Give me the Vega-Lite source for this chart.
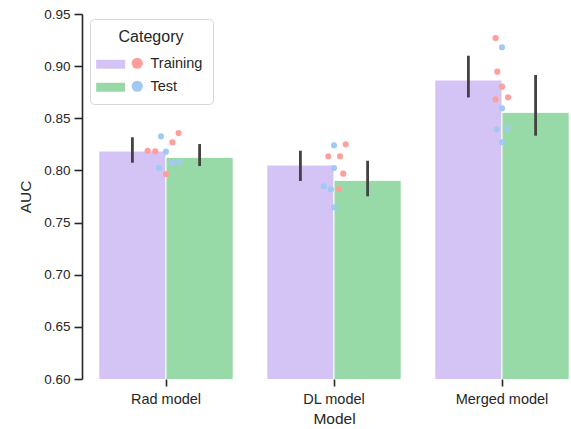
{
  "$schema": "https://vega.github.io/schema/vega-lite/v6.json",
  "autosize": {"type": "none"},
  "width": 489,
  "height": 365,
  "padding": {"left": 82, "top": 14, "right": 0, "bottom": 50},
  "background": "white",
  "config": {
    "font": "Liberation Sans",
    "view": {"stroke": null},
    "axis": {"grid": false, "domainColor": "#262626", "tickColor": "#262626", "labelColor": "#262626", "titleColor": "#262626", "domainWidth": 1.6, "tickWidth": 1.6, "titleFontWeight": "normal"}
  },
  "datasets": {
    "summary": [
      {"Model": "Rad model", "Category": "Training", "AUC": 0.8186, "lo": 0.8074, "hi": 0.8318},
      {"Model": "Rad model", "Category": "Test", "AUC": 0.8126, "lo": 0.8042, "hi": 0.8253},
      {"Model": "DL model", "Category": "Training", "AUC": 0.8052, "lo": 0.7899, "hi": 0.8189},
      {"Model": "DL model", "Category": "Test", "AUC": 0.7905, "lo": 0.7752, "hi": 0.8093},
      {"Model": "Merged model", "Category": "Training", "AUC": 0.8867, "lo": 0.870, "hi": 0.910},
      {"Model": "Merged model", "Category": "Test", "AUC": 0.8557, "lo": 0.8333, "hi": 0.8915}
    ],
    "folds": [
      {"Model": "Rad model", "Category": "Training", "AUC": 0.8359, "jitter": 0.075},
      {"Model": "Rad model", "Category": "Training", "AUC": 0.8270, "jitter": 0.038},
      {"Model": "Rad model", "Category": "Training", "AUC": 0.8189, "jitter": -0.109},
      {"Model": "Rad model", "Category": "Training", "AUC": 0.8183, "jitter": -0.064},
      {"Model": "Rad model", "Category": "Training", "AUC": 0.7966, "jitter": 0.0},
      {"Model": "Rad model", "Category": "Test", "AUC": 0.8327, "jitter": -0.03},
      {"Model": "Rad model", "Category": "Test", "AUC": 0.8180, "jitter": 0.0},
      {"Model": "Rad model", "Category": "Test", "AUC": 0.8026, "jitter": -0.042},
      {"Model": "Rad model", "Category": "Test", "AUC": 0.8074, "jitter": 0.036},
      {"Model": "Rad model", "Category": "Test", "AUC": 0.8084, "jitter": 0.079},
      {"Model": "DL model", "Category": "Training", "AUC": 0.8251, "jitter": 0.07},
      {"Model": "DL model", "Category": "Training", "AUC": 0.8136, "jitter": -0.034},
      {"Model": "DL model", "Category": "Training", "AUC": 0.8136, "jitter": 0.036},
      {"Model": "DL model", "Category": "Training", "AUC": 0.7969, "jitter": 0.055},
      {"Model": "DL model", "Category": "Training", "AUC": 0.7822, "jitter": 0.03},
      {"Model": "DL model", "Category": "Test", "AUC": 0.8241, "jitter": 0.0},
      {"Model": "DL model", "Category": "Test", "AUC": 0.8023, "jitter": 0.0},
      {"Model": "DL model", "Category": "Test", "AUC": 0.7848, "jitter": -0.061},
      {"Model": "DL model", "Category": "Test", "AUC": 0.7819, "jitter": -0.018},
      {"Model": "DL model", "Category": "Test", "AUC": 0.7647, "jitter": 0.0},
      {"Model": "Merged model", "Category": "Training", "AUC": 0.9270, "jitter": -0.038},
      {"Model": "Merged model", "Category": "Training", "AUC": 0.8947, "jitter": -0.028},
      {"Model": "Merged model", "Category": "Training", "AUC": 0.8803, "jitter": 0.0},
      {"Model": "Merged model", "Category": "Training", "AUC": 0.8682, "jitter": -0.038},
      {"Model": "Merged model", "Category": "Training", "AUC": 0.8701, "jitter": 0.036},
      {"Model": "Merged model", "Category": "Test", "AUC": 0.9181, "jitter": 0.0},
      {"Model": "Merged model", "Category": "Test", "AUC": 0.8596, "jitter": 0.0},
      {"Model": "Merged model", "Category": "Test", "AUC": 0.8394, "jitter": -0.032},
      {"Model": "Merged model", "Category": "Test", "AUC": 0.8404, "jitter": 0.032},
      {"Model": "Merged model", "Category": "Test", "AUC": 0.8270, "jitter": 0.0}
    ]
  },
  "resolve": {"scale": {"xOffset": "independent"}},
  "layer": [
    {
      "data": {"name": "summary"},
      "mark": {"type": "bar", "stroke": "white", "strokeWidth": 1, "clip": true},
      "encoding": {
        "x": {"field": "Model", "type": "nominal", "sort": ["Rad model", "DL model", "Merged model"],
              "scale": {"range": [0, 504], "paddingInner": 0, "paddingOuter": 0},
              "axis": {"title": "Model", "labelAngle": 0, "domain": false, "tickSize": 7, "labelPadding": 6, "labelFontSize": 14.5, "titleFontSize": 15.5, "titlePadding": 6}},
        "xOffset": {"field": "Category", "type": "nominal", "sort": ["Training", "Test"],
                    "scale": {"domain": ["Training", "Test"], "paddingInner": 0, "paddingOuter": 0.25}},
        "y": {"field": "AUC", "type": "quantitative",
              "scale": {"domain": [0.6, 0.95], "zero": false, "nice": false},
              "axis": {"title": "AUC", "values": [0.6, 0.65, 0.7, 0.75, 0.8, 0.85, 0.9, 0.95], "format": ".2f", "tickSize": 8, "labelPadding": 4, "labelFontSize": 13.5, "titleFontSize": 15.5, "titlePadding": 10}},
        "color": {"field": "Category", "type": "nominal",
                  "scale": {"domain": ["Training", "Test"], "range": ["#d4c4f6", "#98daa7"]},
                  "legend": {"title": "Category", "orient": "none", "legendX": 8, "legendY": 5,
                             "symbolType": "M-2.47,-1H3.98V1H-2.47Z", "symbolSize": 81, "symbolStrokeWidth": 0,
                             "labelOffset": 36, "labelFontSize": 14.5, "titleFontSize": 16, "titleFontWeight": "normal", "titleAnchor": "middle", "titlePadding": 12,
                             "strokeColor": "#d6d6d6", "cornerRadius": 4, "padding": 10, "rowPadding": 8, "labelColor": "#262626", "titleColor": "#262626"}}
      }
    },
    {
      "data": {"name": "summary"},
      "mark": {"type": "rule", "color": "#424242", "strokeWidth": 2.8},
      "encoding": {
        "x": {"field": "Model", "type": "nominal", "sort": ["Rad model", "DL model", "Merged model"]},
        "xOffset": {"field": "Category", "type": "nominal", "sort": ["Training", "Test"],
                    "scale": {"domain": ["Training", "Test"], "paddingInner": 0, "paddingOuter": 0.25}},
        "y": {"field": "lo", "type": "quantitative"},
        "y2": {"field": "hi"}
      }
    },
    {
      "data": {"name": "folds"},
      "mark": {"type": "circle", "opacity": 1},
      "encoding": {
        "x": {"field": "Model", "type": "nominal", "sort": ["Rad model", "DL model", "Merged model"]},
        "xOffset": {"field": "jitter", "type": "quantitative", "scale": {"domain": [-0.5, 0.5], "range": [0, 168], "zero": false, "nice": false}},
        "y": {"field": "AUC", "type": "quantitative"},
        "size": {"value": 38},
        "fill": {"field": "Category", "type": "nominal", "sort": ["Training", "Test"],
                 "scale": {"range": ["#ff9f9b", "#a1c9f4"]},
                 "legend": {"title": null, "orient": "none", "legendX": 38, "legendY": 32,
                            "symbolType": "circle", "symbolSize": 125, "symbolStrokeWidth": 0,
                            "labelExpr": "''", "labelFontSize": 14.5, "padding": 10, "rowPadding": 8}}
      }
    },
    {
      "mark": {"type": "rule", "color": "#262626", "strokeWidth": 1.6},
      "encoding": {
        "x": {"datum": "Rad model"},
        "x2": {"datum": "Merged model"},
        "y": {"datum": 0.6}
      }
    }
  ]
}
